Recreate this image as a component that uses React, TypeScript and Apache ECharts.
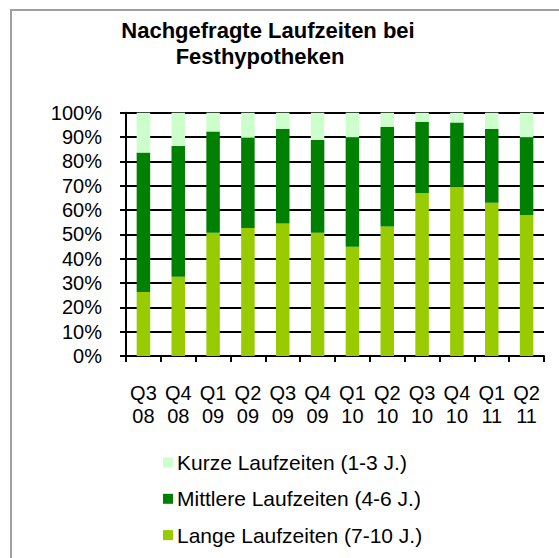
import React, { useEffect, useRef } from "react";
import * as echarts from "echarts";

const categories = ["Q3\n08", "Q4\n08", "Q1\n09", "Q2\n09", "Q3\n09", "Q4\n09", "Q1\n10", "Q2\n10", "Q3\n10", "Q4\n10", "Q1\n11", "Q2\n11"];
const lange = [26.3, 32.6, 50.7, 52.6, 54.5, 50.7, 44.9, 53.2, 67.0, 69.6, 63.0, 58.0];
const mittlere = [57.3, 53.7, 41.6, 37.1, 38.9, 38.1, 45.0, 41.0, 29.3, 26.4, 30.3, 31.9];
const kurze = [16.4, 13.7, 7.7, 10.3, 6.6, 11.2, 10.1, 5.8, 3.7, 4.0, 6.7, 10.1];
const seriesNames = ["Kurze Laufzeiten (1-3 J.)", "Mittlere Laufzeiten (4-6 J.)", "Lange Laufzeiten (7-10 J.)"];
const titleLines = ["Nachgefragte Laufzeiten bei", "Festhypotheken"];

const FONT = "'Liberation Sans', Arial, sans-serif";

export default function App() {
  const ref = useRef<HTMLDivElement>(null);
  useEffect(() => {
    if (!ref.current) return;
    const chart = echarts.init(ref.current, null, { renderer: "svg" });
    chart.setOption({
      animation: false,
      backgroundColor: "#ffffff",
      textStyle: { fontFamily: FONT },
      title: [
        {
          text: titleLines[0],
          left: 268,
          top: 19,
          padding: 0,
          textAlign: "center",
          textStyle: { fontFamily: FONT, fontWeight: "bold", fontSize: 22, color: "#000" },
        },
        {
          text: titleLines[1],
          left: 260,
          top: 45,
          padding: 0,
          textAlign: "center",
          textStyle: { fontFamily: FONT, fontWeight: "bold", fontSize: 22, color: "#000" },
        },
      ],
      graphic: [
        {
          type: "rect",
          shape: { x: 11, y: 10, width: 600, height: 600 },
          style: { fill: "none", stroke: "#a0a0a0", lineWidth: 2 },
          silent: true,
        },
      ],
      legend: {
        orient: "vertical",
        left: 163,
        top: 452,
        padding: 0,
        itemWidth: 10,
        itemHeight: 10,
        itemGap: 15.3,
        icon: "rect",
        data: seriesNames,
        textStyle: { fontFamily: FONT, fontSize: 21, color: "#000", lineHeight: 20, padding: [0, 0, 0, -1] },
      },
      grid: { left: 126, right: 15, top: 112.7, bottom: 202 },
      xAxis: {
        type: "category",
        data: categories,
        axisLine: { show: true, lineStyle: { color: "#000", width: 2 } },
        axisTick: { show: true, length: 6, alignWithLabel: false, lineStyle: { color: "#000", width: 2 } },
        axisLabel: { margin: 25, fontFamily: FONT, fontSize: 20, color: "#000", lineHeight: 23, interval: 0 },
      },
      yAxis: {
        type: "value",
        min: 0,
        max: 100,
        interval: 10,
        axisLine: { show: true, lineStyle: { color: "#000", width: 2 } },
        axisTick: { show: true, length: 6, lineStyle: { color: "#000", width: 2 } },
        splitLine: { show: true, lineStyle: { color: "#000", width: 2 } },
        axisLabel: { margin: 24, fontFamily: FONT, fontSize: 20, color: "#000", formatter: "{value}%" },
      },
      series: [
        { name: seriesNames[2], type: "bar", stack: "t", data: lange, barWidth: 13.5, itemStyle: { color: "#99CC00" } },
        { name: seriesNames[1], type: "bar", stack: "t", data: mittlere, barWidth: 13.5, itemStyle: { color: "#008000" } },
        { name: seriesNames[0], type: "bar", stack: "t", data: kurze, barWidth: 13.5, itemStyle: { color: "#CCFFCC" } },
      ],
    });
    return () => chart.dispose();
  }, []);
  return <div ref={ref} style={{ position: "absolute", left: 0, top: 0, width: 559, height: 558 }} />;
}
